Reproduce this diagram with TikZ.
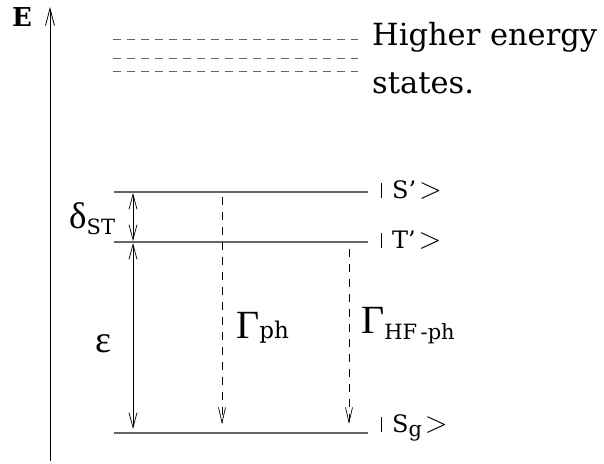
\documentclass[tikz,border=0pt]{standalone}
\usepackage{fontspec}
\setmainfont{DejaVu Serif}
\newfontfamily\greekfont{Liberation Serif}
\usetikzlibrary{arrows.meta}

\newcommand{\lowsub}[2]{\raisebox{-#1}{\fontsize{21}{21}\selectfont #2}}
\newcommand{\ketlabel}[1]{\rule{0.9pt}{15pt}\hspace{10pt}#1\hspace{3pt}\scalebox{1.2}{$>$}}

\tikzset{
  level/.style={draw=black!60, line width=1.3pt},
  upper/.style={draw=black!60, line width=0.9pt, dash pattern=on 8pt off 6pt},
  axis/.style={-{Straight Barb[length=17pt,width=9pt]}, line width=0.8pt},
  gap/.style={{Straight Barb[length=15pt,width=8pt]}-{Straight Barb[length=15pt,width=8pt]}, line width=0.7pt},
  decay/.style={-{Straight Barb[length=15pt,width=7pt]}, dash pattern=on 8pt off 7pt, line width=0.7pt},
  txt/.style={anchor=base west, inner sep=0pt},
}

\begin{document}
\begin{tikzpicture}[x=1pt,y=-1pt]
\useasboundingbox (0,0) rectangle (604,463);

% energy axis
\coordinate (axisbot) at (50,461);
\coordinate (axistop) at (50,7);
\draw[axis] (axisbot) -- (axistop);
\node[txt, font=\fontsize{26}{26}\selectfont\bfseries] (elabel) at (12,26) {E};

% higher energy states (dashed)
\foreach \y [count=\i] in {39,58,71} {
  \coordinate (hl\i) at (113,\y);
  \coordinate (hr\i) at (358,\y);
  \draw[upper] (hl\i) -- (hr\i);
}
\node[txt, font=\fontsize{30.5}{30.5}\selectfont] (hstext1) at (372,45) {Higher energy};
\node[txt, font=\fontsize{30.5}{30.5}\selectfont] (hstext2) at (372,93) {states.};

% levels
\coordinate (sl) at (114,192); \coordinate (sr) at (368,192);
\coordinate (tl) at (114,242); \coordinate (tr) at (368,242);
\coordinate (gl) at (114,433); \coordinate (gr) at (368,433);
\draw[level] (sl) -- (sr);
\draw[level] (tl) -- (tr);
\draw[level] (gl) -- (gr);

% kets
\node[txt, font=\fontsize{24}{24}\selectfont] (sket) at (381,198) {\ketlabel{S’}};
\node[txt, font=\fontsize{24}{24}\selectfont] (tket) at (381,248) {\ketlabel{T’}};
\node[txt, font=\fontsize{24}{24}\selectfont] (gket) at (381,432) {\ketlabel{S\lowsub{4pt}{g}}};

% splittings
\coordinate (dtop) at (133,193);
\coordinate (dbot) at (133,241);
\coordinate (etop) at (133,243);
\coordinate (ebot) at (133,429);
\draw[gap] (dtop) -- (dbot);
\draw[gap] (etop) -- (ebot);
\node[txt] (dlabel) at (69,228) {{\greekfont\fontsize{37}{37}\selectfont δ}\lowsub{6pt}{ST}};
\node[txt] (elevel) at (95,352) {{\greekfont\fontsize{38}{38}\selectfont ε}};

% decay channels (dashed)
\coordinate (phtop) at (222,197);
\coordinate (phbot) at (222,424);
\coordinate (hftop) at (349,249);
\coordinate (hfbot) at (349,424);
\draw[decay] (phtop) -- (phbot);
\draw[decay] (hftop) -- (hfbot);
\node[txt] (phlabel) at (236,338) {{\greekfont\fontsize{40}{40}\selectfont Γ}\lowsub{0pt}{\fontsize{23}{23}\selectfont ph}};
\node[txt] (hflabel) at (361,333) {{\greekfont\fontsize{40}{40}\selectfont Γ}\lowsub{6pt}{HF\,-ph}};

\end{tikzpicture}
\end{document}
